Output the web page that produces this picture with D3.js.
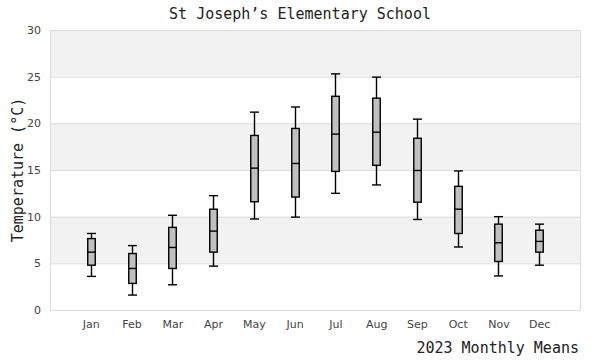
<!DOCTYPE html>
<html><head><meta charset="utf-8">
<script src="https://cdn.jsdelivr.net/npm/d3@7"></script>
<style>body{margin:0;background:#fff}</style>
</head><body>
<svg id="c" width="600" height="360"></svg>
<script>
const months = ["Jan","Feb","Mar","Apr","May","Jun","Jul","Aug","Sep","Oct","Nov","Dec"];
const whiskerLow  = [3.6, 1.6, 2.7, 4.7, 9.75, 9.95, 12.5, 13.4, 9.7, 6.75, 3.65, 4.8];
const q1          = [4.8, 2.85, 4.45, 6.2, 11.6, 12.1, 14.85, 15.5, 11.55, 8.2, 5.2, 6.2];
const median      = [6.2, 4.45, 6.7, 8.45, 15.2, 15.7, 18.85, 19.05, 14.95, 10.8, 7.2, 7.35];
const q3          = [7.65, 6.05, 8.85, 10.8, 18.7, 19.45, 22.9, 22.7, 18.4, 13.25, 9.2, 8.55];
const whiskerHigh = [8.2, 6.9, 10.15, 12.25, 21.2, 21.75, 25.3, 24.95, 20.45, 14.9, 10.0, 9.2];
const yTicks = [0, 5, 10, 15, 20, 25, 30];

const svg = d3.select("#c");
const L = 50, R = 580, T = 30, B = 310;
const mono = "'DejaVu Sans Mono', monospace";
const sans = "'DejaVu Sans', Verdana, sans-serif";

const y = d3.scaleLinear().domain([0, 30]).range([B, T]);
const x = d3.scalePoint().domain(months).range([L, R]).padding(1);

// bands
const bands = d3.pairs(yTicks);
svg.append("g").selectAll("rect").data(bands).join("rect")
  .attr("x", L).attr("width", R - L)
  .attr("y", d => y(d[1])).attr("height", d => y(d[0]) - y(d[1]))
  .attr("fill", (d, i) => i % 2 === 1 ? "#f2f2f2" : "#ffffff");

// grid lines
svg.append("g").selectAll("line").data(yTicks).join("line")
  .attr("x1", L).attr("x2", R)
  .attr("y1", d => y(d) + 0.5).attr("y2", d => y(d) + 0.5)
  .attr("stroke", "#dcdcdc").attr("stroke-width", 1);
svg.append("line").attr("x1", L + 0.5).attr("x2", L + 0.5).attr("y1", T).attr("y2", B)
  .attr("stroke", "#dcdcdc");
svg.append("line").attr("x1", R + 0.5).attr("x2", R + 0.5).attr("y1", T).attr("y2", B)
  .attr("stroke", "#dcdcdc");

// y axis
const yAxis = svg.append("g").attr("transform", `translate(${L},0)`)
  .call(d3.axisLeft(y).tickValues(yTicks).tickSize(0).tickPadding(9));
yAxis.select(".domain").remove();
yAxis.selectAll("text").attr("font-family", sans).attr("font-size", 11).attr("fill", "#444");

// x axis
const xAxis = svg.append("g").attr("transform", `translate(0,${B})`)
  .call(d3.axisBottom(x).tickSize(0).tickPadding(10));
xAxis.select(".domain").remove();
xAxis.selectAll("text").attr("font-family", sans).attr("font-size", 11).attr("fill", "#444");

// boxes
const bw = 7.5;
const cw = 9;
const g = svg.append("g").selectAll("g").data(months).join("g")
  .attr("transform", d => `translate(${Math.round(x(d)) + 0.5},0)`);
g.append("line").attr("x1", 0).attr("x2", 0)
  .attr("y1", (d, i) => y(whiskerLow[i])).attr("y2", (d, i) => y(whiskerHigh[i]))
  .attr("stroke", "#000").attr("stroke-width", 1.4);
g.append("line").attr("x1", -cw / 2).attr("x2", cw / 2)
  .attr("y1", (d, i) => y(whiskerLow[i])).attr("y2", (d, i) => y(whiskerLow[i]))
  .attr("stroke", "#000").attr("stroke-width", 1.4);
g.append("line").attr("x1", -cw / 2).attr("x2", cw / 2)
  .attr("y1", (d, i) => y(whiskerHigh[i])).attr("y2", (d, i) => y(whiskerHigh[i]))
  .attr("stroke", "#000").attr("stroke-width", 1.4);
g.append("rect").attr("x", -bw / 2).attr("width", bw)
  .attr("y", (d, i) => y(q3[i])).attr("height", (d, i) => y(q1[i]) - y(q3[i]))
  .attr("fill", "#c0c0c0").attr("stroke", "#000").attr("stroke-width", 1.4);
g.append("line").attr("x1", -bw / 2).attr("x2", bw / 2)
  .attr("y1", (d, i) => y(median[i])).attr("y2", (d, i) => y(median[i]))
  .attr("stroke", "#000").attr("stroke-width", 1.4);

// titles
svg.append("text").attr("x", 300).attr("y", 19).attr("text-anchor", "middle")
  .attr("font-family", mono).attr("font-size", 15).attr("fill", "#222")
  .text("St Joseph’s Elementary School");
svg.append("text").attr("x", 579).attr("y", 353).attr("text-anchor", "end")
  .attr("font-family", mono).attr("font-size", 15).attr("fill", "#222")
  .text("2023 Monthly Means");
svg.append("text").attr("transform", "translate(23,170) rotate(-90)")
  .attr("text-anchor", "middle")
  .attr("font-family", mono).attr("font-size", 15).attr("fill", "#222")
  .text("Temperature (°C)");
</script>
</body></html>
